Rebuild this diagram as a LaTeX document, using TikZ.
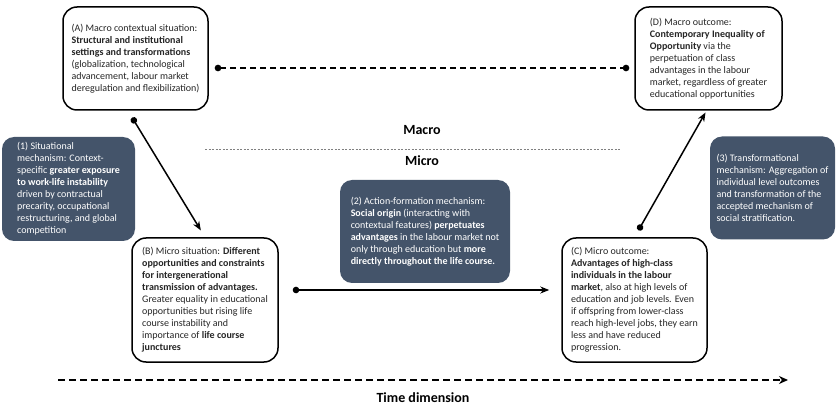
\documentclass[tikz,border=0pt]{standalone}
\usepackage{fontspec}
\setmainfont{Carlito}
\usetikzlibrary{arrows.meta}
\definecolor{mechblue}{HTML}{44546A}
\definecolor{inktext}{HTML}{262626}
\tikzset{every picture/.style={line width=1.5pt}}
\tikzset{
  stage/.style={draw=black, fill=white, rounded corners=14pt, text=inktext,
                align=left, minimum width=#1, inner sep=0pt,
                font=\fontsize{10}{12}\selectfont},
  stage/.default={145pt}, % width of the white boxes
  mech/.style={fill=mechblue, rounded corners=12pt, text=white,
               align=left, minimum width=#1, minimum height=103pt, inner sep=0pt,
               font=\fontsize{10}{12}\selectfont},
  mech/.default={133pt},
  link/.style={{Circle[length=6.5pt]}-{Stealth[length=9pt,width=7pt]}},
  tiername/.style={font=\fontsize{14}{16}\selectfont\bfseries, inner sep=1pt},
}

\begin{document}
\begin{tikzpicture}[x=1pt, y=-1pt]
  \useasboundingbox (0,0) rectangle (836,406);
  % macro level
  \node[stage, minimum height=103pt] (A) at (135.5,58.5) {(A) Macro contextual situation:\\
    \textbf{Structural and institutional}\\
    \textbf{settings and transformations}\\
    (globalization, technological\\
    advancement, labour market\\
    deregulation and flexibilization)};
  \node[stage=147pt, minimum height=103pt] (D) at (708.5,58.5) {(D) Macro outcome:\\
    \textbf{Contemporary Inequality of}\\
    \textbf{Opportunity} via the\\
    perpetuation of class\\
    advantages in the labour\\
    market, regardless of greater\\
    educational opportunities};
  % micro level
  \node[stage=146pt, minimum height=124pt] (B) at (205,300) {(B) Micro situation: \textbf{Different}\\
    \textbf{opportunities and constraints}\\
    \textbf{for intergenerational}\\
    \textbf{transmission of advantages.}\\
    Greater equality in educational\\
    opportunities but rising life\\
    course instability and\\
    importance of \textbf{life course}\\
    \textbf{junctures}};
  \node[stage, minimum height=124pt] (C) at (634.5,300) {(C) Micro outcome:\\
    \textbf{Advantages of high-class}\\
    \textbf{individuals in the labour}\\
    \textbf{market}, also at high levels of\\
    education and job levels. Even\\
    if offspring from lower-class\\
    reach high-level jobs, they earn\\
    less and have reduced\\
    progression.};
  % mechanisms
  \node[mech, minimum height=104pt] (m1) at (68.5,189) {(1) Situational\\
    mechanism: Context-\\
    specific \textbf{greater exposure}\\
    \textbf{to work-life instability}\\
    driven by contractual\\
    precarity, occupational\\
    restructuring, and global\\
    competition};
  \node[mech=170pt] (m2) at (425,231.5) {(2) Action-formation mechanism:\\
    \textbf{Social origin} (interacting with\\
    contextual features) \textbf{perpetuates}\\
    \textbf{advantages} in the labour market not\\
    only through education but \textbf{more}\\
    \textbf{directly throughout the life course.}};
  \node[mech=125pt] (m3) at (772.5,188) {(3) Transformational\\
    mechanism: Aggregation of\\
    individual level outcomes\\
    and transformation of the\\
    accepted mechanism of\\
    social stratification.};
  % levels and time
  \node[tiername] (macro) at (422,130) {Macro};
  \node[tiername] (micro) at (422,161) {Micro};
  \coordinate (lv1) at (205,149);
  \coordinate (lv2) at (620,149);
  \draw[gray, line width=0.6pt, dash pattern=on 2pt off 1.5pt] (lv1) -- (lv2);
  \coordinate (t1) at (58,380);
  \coordinate (t2) at (788,380);
  \draw[line width=2.4pt, dash pattern=on 7pt off 4pt, -{Stealth[length=9pt,width=8pt]}] (t1) -- (t2);
  \node[tiername] (time) at (423,398) {Time dimension};
  % connect boxes
  \draw[link, shorten <=8pt, shorten >=8pt] ([xshift=-7.5pt]A.south) -- (B.north);
  \draw[link, shorten <=8pt, shorten >=2pt] (C.north) -- ([xshift=-2pt]D.south);
  \draw[link, shorten <=14pt, shorten >=12pt] ([yshift=10pt]B.east) -- ([yshift=10pt]C.west);
  \draw[{Circle[length=6.5pt]}-{Circle[length=6.5pt]}, line width=2pt,
        dash pattern=on 6pt off 4pt, shorten <=6pt, shorten >=5pt]
        ([yshift=-9.5pt]A.east) -- ([yshift=-9.5pt]D.west);
\end{tikzpicture}
\end{document}
